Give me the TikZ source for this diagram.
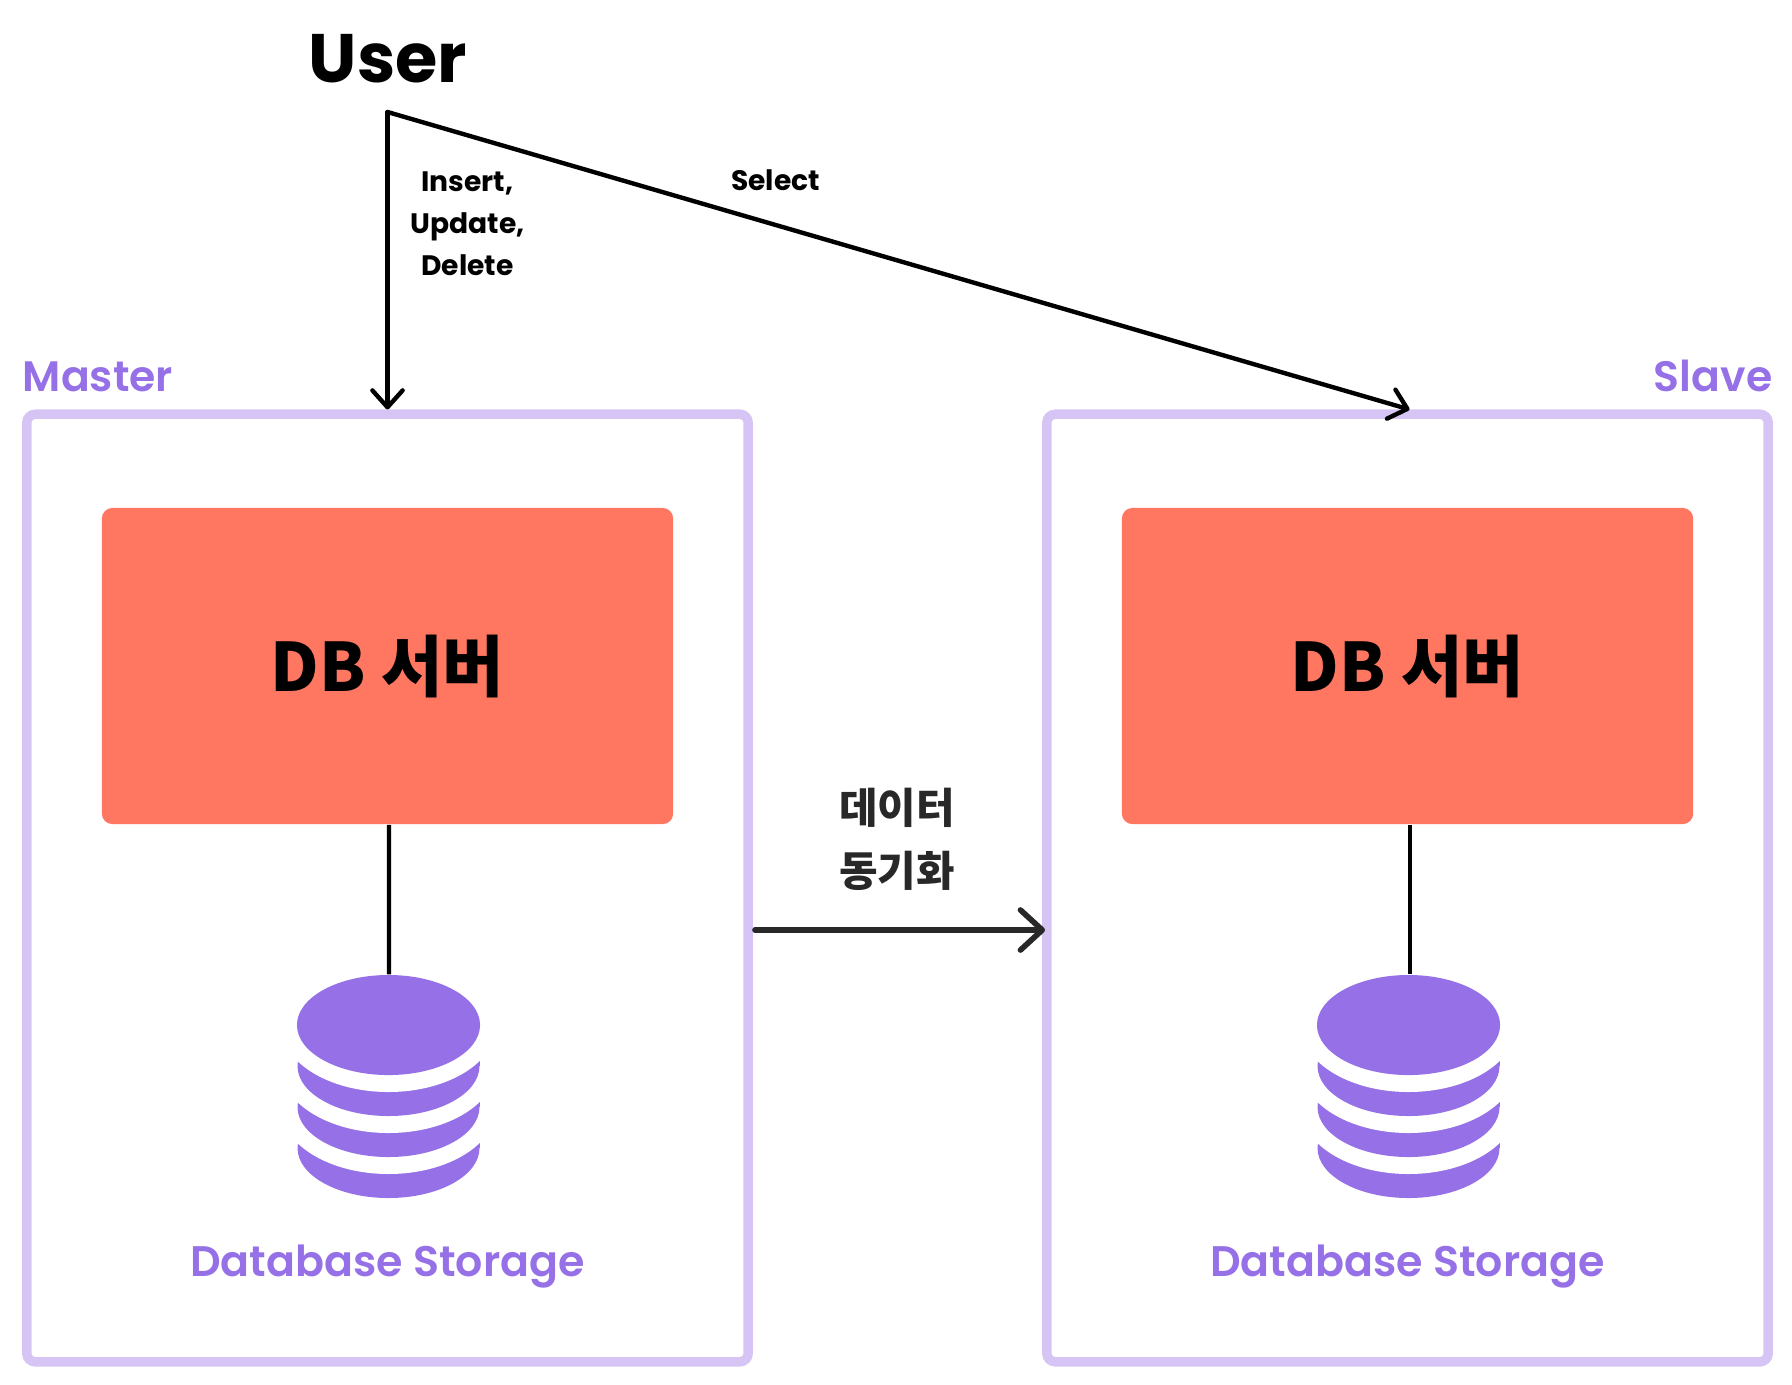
\documentclass[tikz,border=0pt]{standalone}
\usepackage{fontspec}
\setmainfont{Poppins}
\newfontfamily\popsemi{Poppins SemiBold}
\newfontfamily\krfont{Noto Sans CJK KR}
\usetikzlibrary{arrows.meta,positioning,shapes.geometric}
\definecolor{dbpurple}{HTML}{9570E6}
\definecolor{boxlilac}{HTML}{D6C4F5}
\definecolor{serverred}{HTML}{FF7761}
\definecolor{darkink}{HTML}{282828}

\begin{document}
\begin{tikzpicture}[
  x=0.01cm, y=-0.01cm,
  zonebox/.style={draw=boxlilac, line width=2.7pt, rounded corners=2.4pt,
    minimum width=7.21cm, minimum height=9.47cm, inner sep=0pt},
  server/.style={fill=serverred, rounded corners=3pt, minimum width=5.71cm,
    minimum height=3.16cm, inner sep=0pt, font=\krfont\bfseries\fontsize{19}{22}\selectfont},
  dbtop/.style={ellipse, fill=dbpurple, minimum width=1.83cm, minimum height=1cm, inner sep=0pt},
  zonelabel/.style={text=dbpurple, font=\popsemi\fontsize{12.1}{14}\selectfont, inner sep=0pt},
  storage/.style={text=dbpurple, font=\popsemi\fontsize{12.15}{14}\selectfont, inner sep=0pt},
  oplabel/.style={font=\bfseries\fontsize{8}{12}\selectfont, align=center, inner sep=0pt},
  arr/.style={-{Straight Barb[length=4.8pt, width=8.6pt, round]}, line width=1.25pt, line cap=round, line join=round},
  syncarr/.style={-{Straight Barb[length=6.2pt, width=11.4pt, round]}, line width=1.6pt, darkink, line cap=round},
  link/.style={line width=1.15pt},
]
  \useasboundingbox (0,0) rectangle (1792,1384);

  \node[zonebox] (master) at (387.5,888) {};
  \node[zonebox] (slave) at (1407.5,888) {};
  \node[zonelabel, above=4.8pt of master.north west, anchor=south west] (masterlabel) {Master};
  \node[zonelabel, above=4.8pt of slave.north east, anchor=south east] (slavelabel) {Slave};

  \node[server] (serverM) at (387.5,666) {DB 서버};
  \node[server] (serverS) at (1407.5,666) {DB 서버};

  % disk stacks, lowest band first
  \foreach \name/\cx in {M/388.5, S/1408.5} {
    \foreach \cy in {1148,1107,1066} {
      \fill[dbpurple] (\cx-91,\cy-41) rectangle (\cx+91,\cy);
      \fill[dbpurple] (\cx,\cy) ellipse [x radius=91, y radius=50];
      \fill[white] (\cx,\cy-41) ellipse [x radius=108, y radius=67];
    }
    \node[dbtop] (db\name) at (\cx,1025) {};
    \node[storage] (storage\name) at (\cx-1,1266) {Database Storage};
  }

  \draw[link] ([xshift=0.015cm]serverM.south) -- ([xshift=0.005cm]dbM.north);
  \draw[link] ([xshift=0.025cm]serverS.south) -- ([xshift=0.015cm]dbS.north);

  \node[font=\bfseries\fontsize{19.5}{24}\selectfont, inner sep=0pt] (user) at (388,59) {User};
  \coordinate (userfork) at (387.5,112);
  \draw[arr] (userfork) -- (master.north);
  \draw[arr] (userfork) -- ([xshift=0.02cm]slave.north);
  \node[oplabel] (writeops) at (467.5,223.5) {Insert,\\Update,\\Delete};
  \node[oplabel] (readops) at (775.5,180) {Select};

  \node[font=\krfont\bfseries\fontsize{11.9}{18}\selectfont, text=darkink, align=center, inner sep=0pt] (sync) at (897,839) {데이터\\동기화};
  \coordinate (syncy) at (0,930);
  \draw[syncarr] ([xshift=0.02cm]master.east |- syncy) -- ([xshift=0.03cm]slave.west |- syncy);
\end{tikzpicture}
\end{document}
